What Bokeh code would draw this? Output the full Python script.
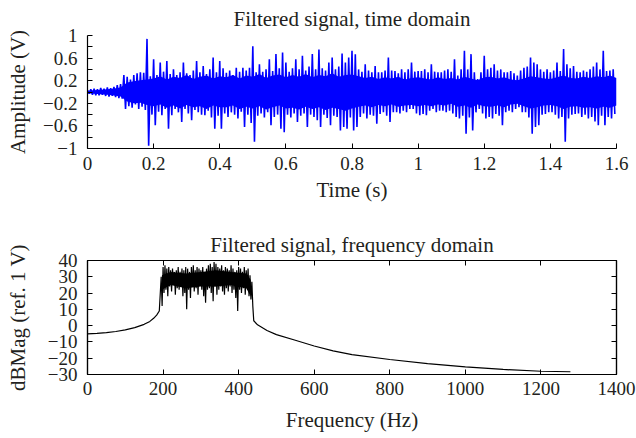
from bokeh.plotting import figure
from bokeh.models import FixedTicker, CustomJSTickFormatter, LinearAxis, Range1d
from bokeh.layouts import column
from bokeh.embed import file_html
from bokeh.resources import INLINE

# ---------------- data ----------------
# time-domain signal: per 0.01 s bin, upper and lower excursion (V)
t_start = 0.0
t_step = 0.01
sig_upper = [
    0.03, 0.05, 0.06, 0.05, 0.07, 0.06, 0.08, 0.07, 0.09, 0.12,
    0.14, 0.30, 0.27, 0.22, 0.30, 0.33, 0.35, 0.34, 0.94, 0.28,
    0.58, 0.30, 0.52, 0.36, 0.55, 0.32, 0.40, 0.30, 0.35, 0.52,
    0.33, 0.30, 0.38, 0.55, 0.35, 0.46, 0.32, 0.40, 0.61, 0.35,
    0.55, 0.42, 0.34, 0.38, 0.30, 0.43, 0.36, 0.43, 0.38, 0.43,
    0.81, 0.35, 0.49, 0.36, 0.40, 0.58, 0.37, 0.67, 0.42, 0.70,
    0.52, 0.36, 0.42, 0.58, 0.40, 0.64, 0.38, 0.45, 0.67, 0.40,
    0.75, 0.42, 0.38, 0.52, 0.61, 0.40, 0.45, 0.68, 0.52, 0.61,
    0.73, 0.67, 0.40, 0.36, 0.49, 0.38, 0.35, 0.46, 0.35, 0.35,
    0.38, 0.61, 0.38, 0.37, 0.33, 0.40, 0.35, 0.40, 0.52, 0.36,
    0.37, 0.37, 0.40, 0.35, 0.49, 0.36, 0.35, 0.35, 0.38, 0.40,
    0.36, 0.58, 0.29, 0.40, 0.73, 0.40, 0.67, 0.35, 0.23, 0.35,
    0.64, 0.40, 0.43, 0.49, 0.38, 0.40, 0.35, 0.35, 0.37, 0.33,
    0.29, 0.38, 0.43, 0.45, 0.61, 0.52, 0.49, 0.40, 0.36, 0.40,
    0.35, 0.38, 0.52, 0.37, 0.76, 0.49, 0.42, 0.46, 0.36, 0.35,
    0.38, 0.36, 0.40, 0.45, 0.52, 0.40, 0.73, 0.37, 0.38, 0.40,
]
sig_lower = [
    -0.03, -0.05, -0.06, -0.06, -0.05, -0.07, -0.08, -0.07, -0.09, -0.11,
    -0.12, -0.30, -0.25, -0.28, -0.22, -0.30, -0.26, -0.32, -0.95, -0.40,
    -0.59, -0.35, -0.41, -0.30, -0.65, -0.41, -0.30, -0.36, -0.53, -0.30,
    -0.38, -0.50, -0.32, -0.36, -0.40, -0.41, -0.33, -0.45, -0.65, -0.42,
    -0.65, -0.38, -0.44, -0.36, -0.40, -0.47, -0.35, -0.62, -0.40, -0.55,
    -0.88, -0.42, -0.38, -0.45, -0.36, -0.59, -0.44, -0.40, -0.65, -0.71,
    -0.40, -0.45, -0.38, -0.53, -0.42, -0.38, -0.62, -0.40, -0.44, -0.50,
    -0.62, -0.40, -0.46, -0.59, -0.42, -0.44, -0.68, -0.62, -0.65, -0.45,
    -0.68, -0.62, -0.44, -0.38, -0.47, -0.40, -0.42, -0.56, -0.39, -0.36,
    -0.42, -0.53, -0.36, -0.36, -0.38, -0.33, -0.36, -0.30, -0.30, -0.38,
    -0.41, -0.39, -0.41, -0.33, -0.30, -0.36, -0.33, -0.33, -0.36, -0.33,
    -0.38, -0.44, -0.47, -0.42, -0.74, -0.45, -0.68, -0.36, -0.30, -0.38,
    -0.47, -0.44, -0.47, -0.39, -0.42, -0.59, -0.36, -0.33, -0.36, -0.30,
    -0.27, -0.36, -0.36, -0.45, -0.74, -0.62, -0.59, -0.40, -0.39, -0.36,
    -0.36, -0.40, -0.47, -0.44, -0.88, -0.47, -0.40, -0.39, -0.38, -0.44,
    -0.40, -0.47, -0.44, -0.52, -0.59, -0.42, -0.59, -0.44, -0.47, -0.39,
]
# dense core of the time signal (solid band), every 0.02 s
core_step = 0.02
core_hi = [0.02, 0.03, 0.04, 0.05, 0.06, 0.08,
           0.17, 0.19, 0.21, 0.22,
           0.24, 0.28, 0.22, 0.27, 0.25, 0.30, 0.23, 0.27, 0.29, 0.24, 0.28,
           0.26, 0.30, 0.24, 0.29, 0.27, 0.32, 0.25, 0.29, 0.31, 0.26,
           0.30, 0.27, 0.32, 0.26, 0.30, 0.28, 0.33, 0.27, 0.30, 0.31,
           0.28, 0.25, 0.27, 0.23, 0.26, 0.24, 0.27, 0.22, 0.25, 0.26,
           0.24, 0.22, 0.26, 0.23, 0.25, 0.22, 0.27, 0.24, 0.21, 0.26,
           0.27, 0.24, 0.26, 0.22, 0.21, 0.24, 0.28, 0.26, 0.24, 0.23,
           0.26, 0.29, 0.25, 0.24, 0.27, 0.25, 0.28, 0.26, 0.29, 0.25]
core_lo = [-0.02, -0.03, -0.04, -0.05, -0.06, -0.08,
           -0.17, -0.20, -0.19, -0.23,
           -0.25, -0.22, -0.28, -0.24, -0.29, -0.23, -0.27, -0.25, -0.30, -0.24, -0.27,
           -0.27, -0.24, -0.30, -0.26, -0.29, -0.25, -0.31, -0.27, -0.24, -0.29,
           -0.28, -0.31, -0.26, -0.30, -0.27, -0.32, -0.28, -0.30, -0.33, -0.29,
           -0.26, -0.24, -0.27, -0.23, -0.25, -0.22, -0.26, -0.24, -0.23, -0.25,
           -0.23, -0.25, -0.22, -0.24, -0.21, -0.26, -0.24, -0.28, -0.22, -0.25,
           -0.26, -0.24, -0.27, -0.22, -0.21, -0.25, -0.29, -0.27, -0.24, -0.23,
           -0.25, -0.30, -0.26, -0.25, -0.28, -0.27, -0.29, -0.26, -0.28, -0.24]

# frequency-domain magnitude (dB ref 1 V)
low_skirt_f = [0, 25, 50, 75, 100, 125, 150, 165, 175, 183, 190]
low_skirt_db = [-5.0, -4.8, -4.3, -3.6, -2.6, -1.2, 0.8, 2.6, 4.5, 6.5, 9.0]
band_f_start = 195
band_f_step = 5
band_hi = [30, 36, 37, 35, 36, 34, 35, 33, 34, 36,
           33, 35, 34, 36, 35, 33, 36, 37, 34, 36,
           35, 34, 36, 33, 35, 37, 38, 36, 39, 38,
           36, 35, 37, 34, 36, 35, 34, 37, 35, 33,
           34, 36, 35, 33, 36, 34, 35, 31, 27]
band_lo = [12, 20, 22, 18, 24, 21, 25, 19, 23, 22,
           24, 18, 20, 10, 22, 17, 24, 21, 23, 19,
           25, 22, 18, 14, 22, 23, 20, 15, 24, 19,
           22, 24, 21, 19, 23, 21, 24, 20, 22, 17,
           9, 22, 20, 23, 19, 24, 18, 16, 12]
band_core_f = [197, 220, 260, 300, 340, 380, 420, 432]
band_core_hi = [31, 33, 32, 33, 34, 33, 32, 28]
band_core_lo = [22, 25, 23, 24, 24, 25, 23, 18]
high_skirt_f = [440, 450, 475, 500, 550, 600, 650, 700, 800, 900, 1000, 1100, 1200, 1278]
high_skirt_db = [3.0, 0.5, -3.0, -5.5, -9.0, -12.5, -15.5, -17.8, -20.8, -23.3, -25.3, -26.9, -28.0, -28.3]

time_ticks = [0, 0.2, 0.4, 0.6, 0.8, 1, 1.2, 1.4, 1.6]
amp_ticks = [-1, -0.6, -0.2, 0.2, 0.6, 1]
amp_minor = [-0.8, -0.4, 0, 0.4, 0.8]
freq_ticks = [0, 200, 400, 600, 800, 1000, 1200, 1400]
db_ticks = [-30, -20, -10, 0, 10, 20, 30, 40]

# ---------------- build series ----------------
sig_x, sig_y = [], []
for i, (u, l) in enumerate(zip(sig_upper, sig_lower)):
    t = t_start + i * t_step
    sig_x += [t, t + t_step / 2]
    sig_y += [u, l]

core_t = [i * core_step for i in range(len(core_hi))]

spec_x = list(low_skirt_f)
spec_y = list(low_skirt_db)
for i, (h, l) in enumerate(zip(band_hi, band_lo)):
    f = band_f_start + i * band_f_step
    spec_x += [f, f + band_f_step / 2]
    spec_y += [h, l]
spec_x += high_skirt_f
spec_y += high_skirt_db

FONT = "Liberation Serif"
TXT = "#231f20"
fmt_code = "return String(tick).replace('-', '\u2212');"


def style_axis(ax, label_standoff, axis_label_standoff):
    ax.major_tick_in = 5
    ax.major_tick_out = 0
    ax.minor_tick_in = 5
    ax.minor_tick_out = 0
    ax.axis_line_color = "black"
    ax.major_tick_line_color = "black"
    ax.minor_tick_line_color = "black"
    ax.axis_line_width = 1.2
    ax.major_label_text_font = FONT
    ax.major_label_text_font_size = "19px"
    ax.major_label_text_color = TXT
    ax.major_label_standoff = label_standoff
    ax.axis_label_text_font = FONT
    ax.axis_label_text_font_size = "21px"
    ax.axis_label_text_font_style = "normal"
    ax.axis_label_text_color = TXT
    ax.axis_label_standoff = axis_label_standoff
    ax.formatter = CustomJSTickFormatter(code=fmt_code)


def style_title(p, standoff):
    p.title.align = "center"
    p.title.text_font = FONT
    p.title.text_font_size = "21px"
    p.title.text_font_style = "normal"
    p.title.text_color = TXT
    p.title.standoff = standoff


# ---------------- top: time domain ----------------
p1 = figure(width=636, height=214, x_range=Range1d(0, 1.6), y_range=Range1d(-1, 1),
            output_backend="svg", toolbar_location=None,
            min_border_left=87, min_border_right=20, min_border_top=34, min_border_bottom=66)
p1.title.text = "Filtered signal, time domain"
style_title(p1, 8.5)
p1.outline_line_color = None
p1.grid.visible = False
p1.xaxis.ticker = FixedTicker(ticks=time_ticks)
p1.yaxis.ticker = FixedTicker(ticks=amp_ticks, minor_ticks=amp_minor)
p1.xaxis.axis_label = "Time (s)"
p1.yaxis.axis_label = "Amplitude (V)"
style_axis(p1.xaxis[0], 8, 5)
style_axis(p1.yaxis[0], 10, 10)
p1.varea(x=core_t, y1=core_lo, y2=core_hi, fill_color="#0000ff")
p1.line(sig_x, sig_y, line_color="#0000ff", line_width=1.6)

# ---------------- bottom: frequency domain ----------------
p2 = figure(width=636, height=224, x_range=Range1d(0, 1400), y_range=Range1d(-30, 40),
            output_backend="svg", toolbar_location=None,
            min_border_left=87, min_border_right=20, min_border_top=46, min_border_bottom=64)
p2.title.text = "Filtered signal, frequency domain"
style_title(p2, 7)
p2.outline_line_color = "black"
p2.outline_line_width = 1.2
p2.grid.visible = False
p2.xaxis.ticker = FixedTicker(ticks=freq_ticks)
p2.yaxis.ticker = FixedTicker(ticks=db_ticks)
p2.xaxis.axis_label = "Frequency (Hz)"
p2.yaxis.axis_label = "dBMag (ref. 1 V)"
style_axis(p2.xaxis[0], 7, 10)
style_axis(p2.yaxis[0], 10, 15)

top_ax = LinearAxis(ticker=FixedTicker(ticks=freq_ticks))
right_ax = LinearAxis(ticker=FixedTicker(ticks=db_ticks))
for ax in (top_ax, right_ax):
    style_axis(ax, 0, 0)
    ax.formatter = CustomJSTickFormatter(code="return '';")
    ax.major_label_text_color = None
p2.add_layout(top_ax, "above")
p2.add_layout(right_ax, "right")

p2.varea(x=band_core_f, y1=band_core_lo, y2=band_core_hi, fill_color="black")
p2.line(spec_x, spec_y, line_color="black", line_width=1.2)

layout = column(p1, p2, spacing=0)
open("out.html", "w").write(file_html(layout, INLINE))
